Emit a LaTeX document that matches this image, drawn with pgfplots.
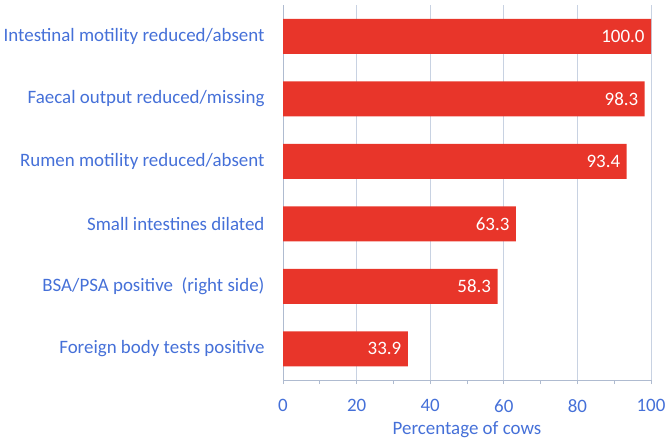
\documentclass[border=0pt]{standalone}
\usepackage{fontspec}
\setmainfont{Carlito}
\usepackage{pgfplots}
\pgfplotsset{compat=1.18}
\usepackage{pgfplotstable}
\definecolor{txtblue}{HTML}{4570D8}
\definecolor{barred}{HTML}{E8352A}
\definecolor{gridc}{HTML}{C8D2E2}
\definecolor{axisc}{HTML}{AFBBD0}
\pgfplotstableread{
val idx
100.0 0
98.3 1
93.4 2
63.3 3
58.3 4
33.9 5
}\datatab
\begin{document}
\begin{tikzpicture}
\begin{axis}[
  at={(283bp,62bp)}, anchor=south west,
  scale only axis, width=368bp, height=375bp,
  xbar, bar width=0.56,
  xmin=0, xmax=100, ymin=-0.5, ymax=5.5,
  y dir=reverse,
  axis x line=bottom, axis y line=left,
  axis line style={-, draw=axisc, line width=0.8pt},
  xtick={0,20,...,100}, minor x tick num=1,
  tick align=outside,
  major tick length=4bp, minor tick length=4bp,
  every tick/.style={draw=axisc, line width=0.7pt},
  xmajorgrids, major grid style={draw=gridc, line width=0.8pt},
  ytick={0,...,5},
  yticklabels={Intestinal motility reduced/absent, Faecal output reduced/missing, Rumen motility reduced/absent, Small intestines dilated, {BSA/PSA positive\ \ (right side)}, Foreign body tests positive},
  y tick style={draw=none},
  yticklabel style={font=\fontsize{19}{22}\selectfont, color=txtblue, xshift=-11bp},
  xticklabel style={font=\fontsize{19}{22}\selectfont, color=txtblue, yshift=-12bp},
  /pgf/number format/assume math mode=true,
  xlabel={Percentage of cows},
  xlabel style={font=\fontsize{19}{22}\selectfont, color=txtblue, yshift=-2bp},
  nodes near coords,
  nodes near coords style={/pgf/number format/fixed, /pgf/number format/fixed zerofill, /pgf/number format/precision=1},
  every node near coord/.append style={anchor=east, color=white, font=\fontsize{19}{22}\selectfont, xshift=-3bp},
  clip=false,
]
\addplot[draw=none, fill=barred] table[x=val, y=idx] {\datatab};
\end{axis}
\pgfresetboundingbox
\path (0,0) rectangle (669bp,442bp);
\end{tikzpicture}
\end{document}
